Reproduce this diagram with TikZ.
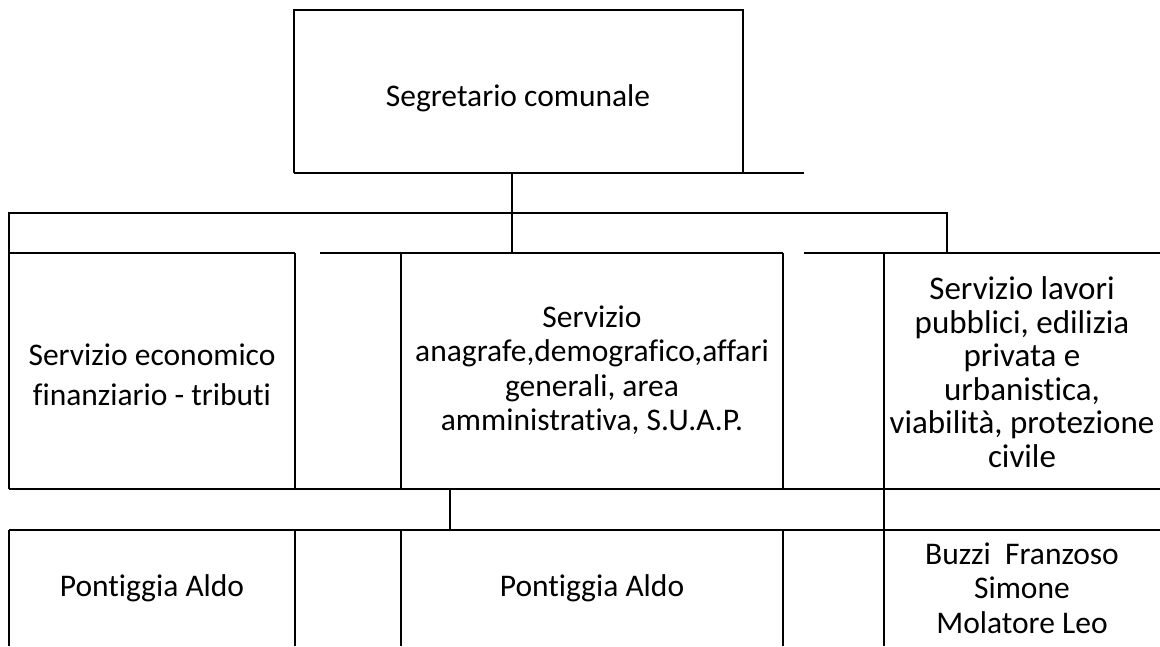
\documentclass[tikz,border=0pt]{standalone}
\usepackage{fontspec}
\setmainfont{Carlito}[Ligatures=NoCommon]
\begin{document}
\begin{tikzpicture}[x=1pt,y=-1pt,
  rule/.style={line width=1.5pt, black},
  cell/.style={align=center, inner sep=0pt, font=\fontsize{31.5}{34.5}\selectfont},
  cellwide/.style={align=center, inner sep=0pt, font=\fontsize{31.5}{40}\selectfont},
  cellbig/.style={align=center, inner sep=0pt, font=\fontsize{33}{33.5}\selectfont}]
\useasboundingbox (0,0) rectangle (1160,646);
% text cells
\node[cell] (top) at (518,98) {Segretario comunale};
\node[cellwide] (econ) at (152,375) {Servizio economico\\finanziario - tributi};
\node[cell] (anag) at (592,370) {Servizio\\anagrafe,demografico,affari\\generali, area\\amministrativa, S.U.A.P.};
\node[cellbig] (lav) at (1022,372) {Servizio lavori\\pubblici, edilizia\\privata e\\urbanistica,\\viabilità, protezione\\civile};
\node[cell] (p1) at (152,588) {Pontiggia Aldo};
\node[cell] (p2) at (592,588) {Pontiggia Aldo};
\node[cell] (bz) at (1022,588) {Buzzi\ \ Franzoso\\Simone\\Molatore Leo};
% coordinates
\coordinate (tl) at (294,10);
\coordinate (tr) at (743,10);
\coordinate (bl) at (294,173);
\coordinate (br) at (743,173);
\coordinate (bx) at (804,173);
\coordinate (stem) at (512,173);
\coordinate (stemb) at (512,253);
% top box
\draw[rule] (bl) -- (tl) -- (tr) -- (br);
\draw[rule] (bl) -- (bx);
\draw[rule] (stem) -- (stemb);
% branch line
\draw[rule] (9,489) -- (9,213) -- (947,213) -- (947,253);
% row 1 top lines
\draw[rule] (9,253) -- (295,253);
\draw[rule] (320,253) -- (783,253);
\draw[rule] (804,253) -- (1160,253);
% row 1 verticals
\draw[rule] (295,253) -- (295,489);
\draw[rule] (401,253) -- (401,489);
\draw[rule] (783,253) -- (783,489);
\draw[rule] (884,253) -- (884,646);
% middle rows
\draw[rule] (9,489) -- (1160,489);
\draw[rule] (450,489) -- (450,530);
\draw[rule] (9,530) -- (1160,530);
% bottom verticals
\draw[rule] (9,530) -- (9,646);
\draw[rule] (295,530) -- (295,646);
\draw[rule] (401,530) -- (401,646);
\draw[rule] (783,530) -- (783,646);
\end{tikzpicture}
\end{document}
